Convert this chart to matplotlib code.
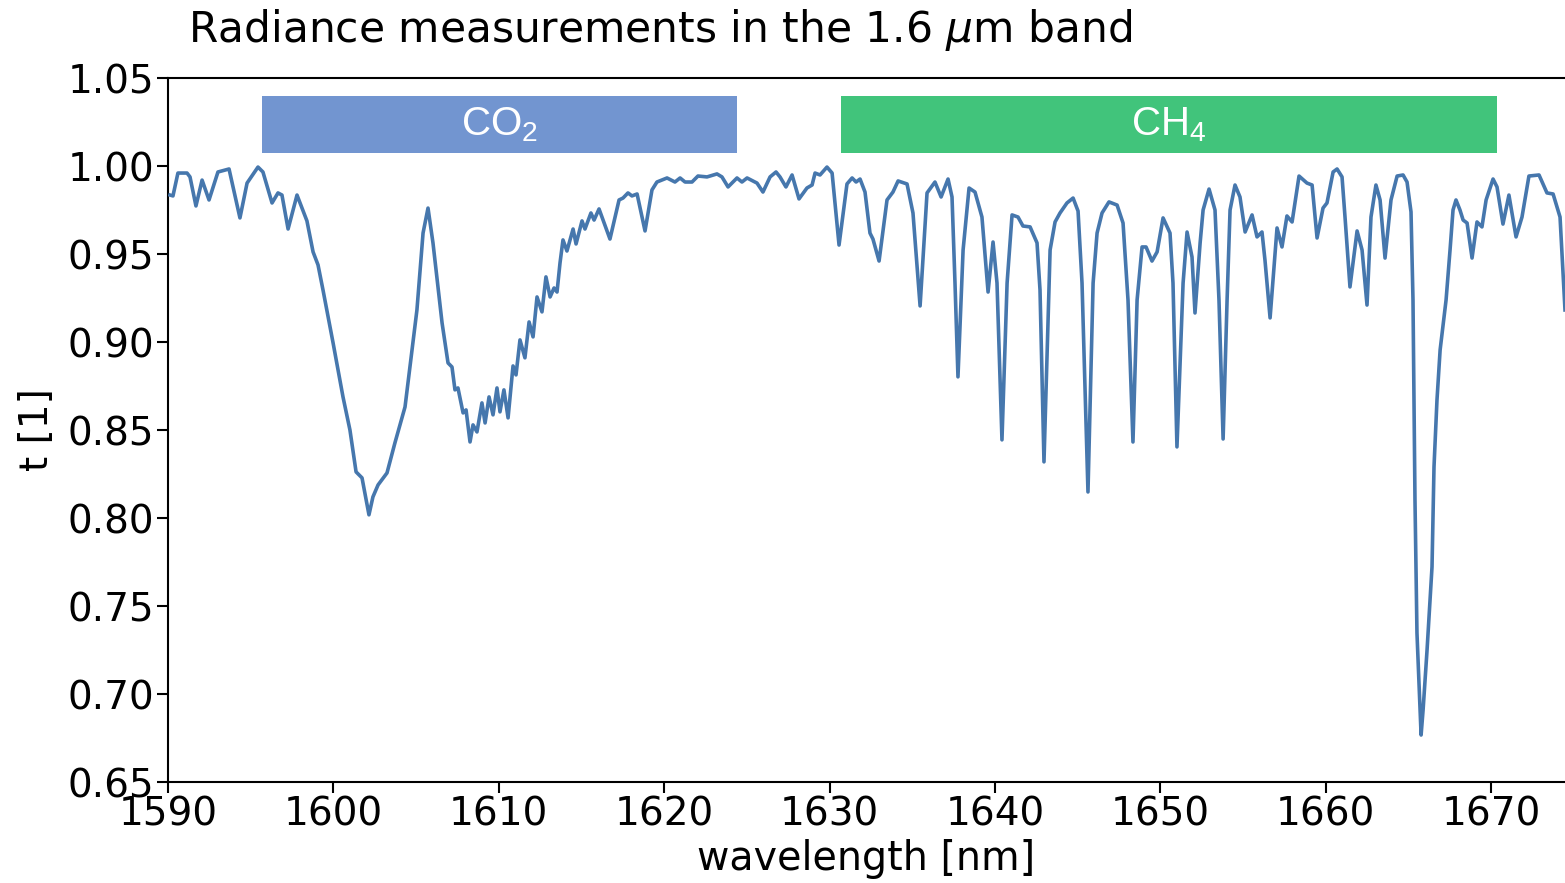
import matplotlib
matplotlib.use("Agg")
import matplotlib.pyplot as plt

# transmission spectrum
wavelength = [
    1590.12, 1590.30, 1590.60, 1591.15, 1591.33, 1591.69, 1592.06, 1592.48, 1593.02, 1593.69,
    1594.35, 1594.78, 1595.44, 1595.74, 1596.29, 1596.65, 1596.89, 1597.26, 1597.80, 1598.40,
    1598.77, 1599.07, 1599.37, 1599.98, 1600.58, 1601.00, 1601.37, 1601.73, 1602.15, 1602.39,
    1602.70, 1603.24, 1603.72, 1604.33, 1605.05, 1605.42, 1605.72, 1606.02, 1606.57, 1606.93,
    1607.17, 1607.35, 1607.53, 1607.84, 1608.02, 1608.26, 1608.44, 1608.68, 1608.98, 1609.17,
    1609.41, 1609.65, 1609.89, 1610.07, 1610.31, 1610.56, 1610.86, 1611.04, 1611.28, 1611.58,
    1611.83, 1612.07, 1612.31, 1612.61, 1612.85, 1613.10, 1613.34, 1613.52, 1613.70, 1613.88,
    1614.12, 1614.49, 1614.67, 1615.03, 1615.21, 1615.57, 1615.76, 1616.06, 1616.72, 1617.27,
    1617.51, 1617.81, 1618.05, 1618.36, 1618.84, 1619.26, 1619.56, 1620.17, 1620.65, 1620.96,
    1621.26, 1621.68, 1622.04, 1622.59, 1623.19, 1623.49, 1623.86, 1624.40, 1624.70, 1625.01,
    1625.61, 1625.97, 1626.40, 1626.76, 1627.00, 1627.36, 1627.73, 1628.15, 1628.63, 1628.94,
    1629.12, 1629.42, 1629.84, 1630.15, 1630.57, 1631.05, 1631.36, 1631.60, 1631.84, 1632.14,
    1632.44, 1632.62, 1632.99, 1633.47, 1633.83, 1634.14, 1634.68, 1635.04, 1635.47, 1635.89,
    1636.37, 1636.74, 1637.16, 1637.40, 1637.58, 1637.76, 1638.07, 1638.43, 1638.79, 1639.21,
    1639.58, 1639.88, 1640.12, 1640.42, 1640.73, 1641.03, 1641.39, 1641.69, 1642.12, 1642.54,
    1642.72, 1642.96, 1643.33, 1643.63, 1643.93, 1644.35, 1644.72, 1645.02, 1645.26, 1645.62,
    1645.93, 1646.17, 1646.47, 1646.89, 1647.38, 1647.74, 1648.04, 1648.34, 1648.59, 1648.89,
    1649.13, 1649.49, 1649.80, 1650.16, 1650.58, 1650.76, 1651.00, 1651.37, 1651.61, 1651.91,
    1652.09, 1652.40, 1652.58, 1652.94, 1653.30, 1653.54, 1653.79, 1654.03, 1654.21, 1654.51,
    1654.81, 1655.12, 1655.54, 1655.84, 1656.14, 1656.32, 1656.63, 1657.05, 1657.35, 1657.65,
    1657.96, 1658.38, 1658.86, 1659.17, 1659.47, 1659.83, 1660.07, 1660.44, 1660.68, 1660.98,
    1661.16, 1661.46, 1661.89, 1662.19, 1662.49, 1662.73, 1663.03, 1663.28, 1663.58, 1663.94,
    1664.31, 1664.67, 1664.91, 1665.15, 1665.27, 1665.39, 1665.51, 1665.76, 1665.88, 1666.12,
    1666.42, 1666.54, 1666.72, 1666.91, 1667.27, 1667.51, 1667.69, 1667.87, 1668.11, 1668.30,
    1668.54, 1668.84, 1669.14, 1669.44, 1669.69, 1670.11, 1670.35, 1670.71, 1671.07, 1671.50,
    1671.86, 1672.28, 1672.89, 1673.37, 1673.74, 1674.16, 1674.46,
]
transmission = [
    0.9835, 0.983, 0.996, 0.996, 0.9938, 0.9773, 0.992, 0.9807, 0.9966, 0.9983,
    0.9705, 0.9903, 0.9994, 0.9966, 0.979, 0.9847, 0.9835, 0.9642, 0.9835, 0.9688,
    0.9512, 0.9438, 0.9296, 0.8995, 0.8688, 0.850, 0.8262, 0.8228, 0.8018, 0.812,
    0.8188, 0.8256, 0.8427, 0.8631, 0.9182, 0.9619, 0.9761, 0.9563, 0.9108, 0.8881,
    0.8858, 0.8728, 0.8739, 0.8597, 0.8614, 0.8432, 0.8529, 0.8489, 0.8654, 0.854,
    0.8688, 0.8586, 0.8739, 0.8603, 0.8728, 0.8569, 0.8864, 0.8813, 0.9012, 0.891,
    0.9114, 0.9029, 0.9256, 0.9171, 0.937, 0.9256, 0.9307, 0.9284, 0.9449, 0.958,
    0.9517, 0.9642, 0.9557, 0.9688, 0.9642, 0.9733, 0.9693, 0.9756, 0.9585, 0.9807,
    0.9818, 0.9847, 0.983, 0.9841, 0.9631, 0.9864, 0.9909, 0.9932, 0.9909, 0.9932,
    0.9909, 0.9909, 0.9943, 0.9938, 0.9955, 0.9938, 0.9881, 0.9932, 0.9909, 0.9932,
    0.9903, 0.9852, 0.9938, 0.9966, 0.9938, 0.9881, 0.9949, 0.9813, 0.9875, 0.9892,
    0.996, 0.9949, 0.9994, 0.996, 0.9551, 0.9898, 0.9932, 0.9909, 0.9926, 0.9852,
    0.9619, 0.9585, 0.946, 0.9807, 0.9852, 0.9915, 0.9898, 0.9733, 0.9205, 0.9847,
    0.9909, 0.9824, 0.9926, 0.9824, 0.9335, 0.8802, 0.9523, 0.9875, 0.9852, 0.971,
    0.9284, 0.9568, 0.9335, 0.8444, 0.9335, 0.9722, 0.971, 0.9659, 0.9654, 0.9563,
    0.9296, 0.8319, 0.9523, 0.9682, 0.9733, 0.979, 0.9818, 0.9744, 0.9335, 0.8148,
    0.9335, 0.9619, 0.9733, 0.9796, 0.9778, 0.9676, 0.9239, 0.8432, 0.9239, 0.954,
    0.954, 0.946, 0.9512, 0.9705, 0.9619, 0.9335, 0.8404, 0.9335, 0.9625, 0.9483,
    0.9165, 0.9563, 0.975, 0.9869, 0.975, 0.9239, 0.8449, 0.9239, 0.975, 0.9892,
    0.9824, 0.9625, 0.9722, 0.9597, 0.9625, 0.9466, 0.9137, 0.9648, 0.954, 0.9716,
    0.9682, 0.9943, 0.9903, 0.9892, 0.9591, 0.9761, 0.979, 0.9966, 0.9983, 0.9938,
    0.971, 0.9313, 0.9631, 0.9523, 0.921, 0.971, 0.9892, 0.9807, 0.9477, 0.9807,
    0.9943, 0.9949, 0.9909, 0.9739, 0.9239, 0.8103, 0.7347, 0.6767, 0.6909, 0.725,
    0.7722, 0.829, 0.867, 0.8955, 0.9239, 0.9523, 0.975, 0.9807, 0.975, 0.9693,
    0.9676, 0.9477, 0.9682, 0.9654, 0.9807, 0.9926, 0.9881, 0.967, 0.9835, 0.9597,
    0.971, 0.9943, 0.9949, 0.9847, 0.9841, 0.971, 0.9182,
]

# gas bands (start, end in nm)
band_names = ["CO$_\\mathregular{2}$", "CH$_\\mathregular{4}$"]
band_start = [1595.68, 1630.69]
band_end = [1624.40, 1670.35]
band_colors = ["#7295d0", "#41c47b"]

fig = plt.figure(figsize=(15.65, 8.83), dpi=100)
ax = fig.add_axes([168 / 1565, 101 / 883, 1397 / 1565, 704 / 883])

ax.plot(wavelength, transmission, color="#4677ad", lw=2.6, zorder=3,
        solid_joinstyle="round")

for name, x0, x1, c in zip(band_names, band_start, band_end, band_colors):
    ax.fill_between([x0, x1], 1.0074, 1.0398, color=c, lw=0, zorder=2)
    ax.text((x0 + x1) / 2, 1.0236, name, color="white", ha="center", va="center",
            fontsize=29, family="Liberation Sans", zorder=4)

ax.set_xlim(1590, 1674.46)
ax.set_ylim(0.65, 1.05)
ax.set_xticks(range(1590, 1671, 10))
ax.set_yticks([0.65, 0.70, 0.75, 0.80, 0.85, 0.90, 0.95, 1.00, 1.05])
ax.set_yticklabels(["%.2f" % v for v in ax.get_yticks()])
ax.tick_params(labelsize=28, length=8, width=1.5, pad=2)
for side in ["left", "bottom", "top"]:
    ax.spines[side].set_linewidth(1.5)
ax.spines["right"].set_visible(False)

ax.set_xlabel("wavelength [nm]", fontsize=28.5, labelpad=4)
ax.set_ylabel("t [1]", fontsize=28, labelpad=8)

fig.text(188 / 1565, 1 - 42 / 883, "Radiance measurements in the 1.6 $\\mu$m band",
         fontsize=30.5, ha="left", va="baseline")

fig.savefig("out.png", dpi=100)
